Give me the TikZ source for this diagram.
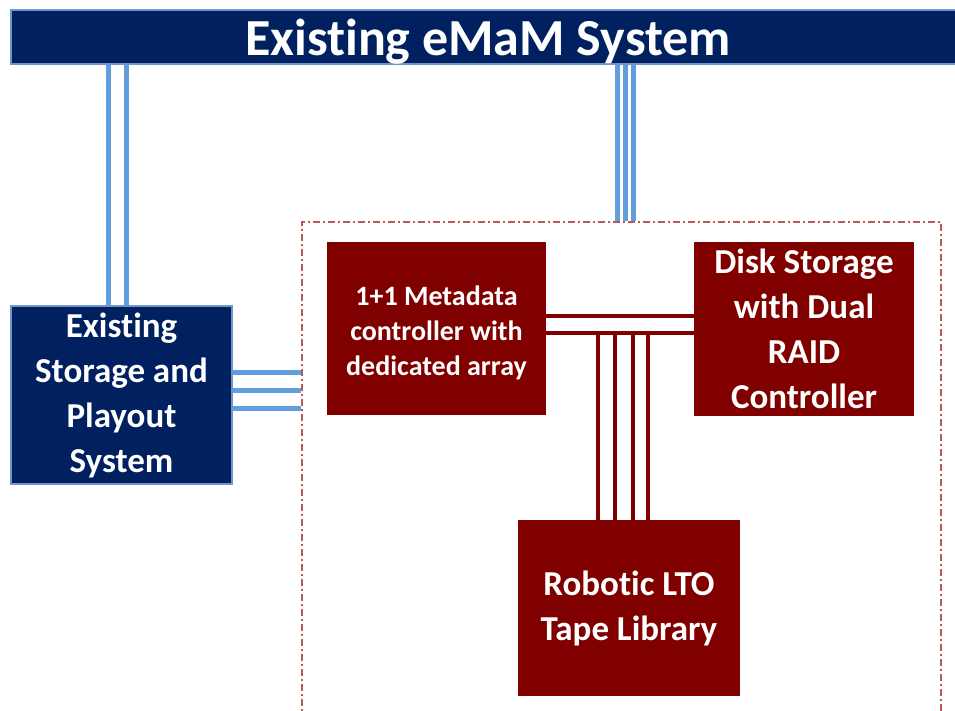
\documentclass[tikz,border=0pt]{standalone}
\usepackage{fontspec}
\setmainfont{Carlito}[Ligatures = NoCommon]
\definecolor{emnavy}{RGB}{0,32,96}
\definecolor{emred}{RGB}{128,0,0}
\definecolor{emblue}{RGB}{98,158,222}
\definecolor{emedge}{RGB}{110,150,205}
\definecolor{emdash}{RGB}{180,90,90}
\newcommand{\boxfont}{\bfseries\fontsize{35}{45}\selectfont}
\begin{document}
\begin{tikzpicture}[x=1pt, y=-1pt,
        navybox/.style = {fill = emnavy, draw = emedge, line width = 1.2pt, inner sep = 0pt, text = white, align = center, font = \boxfont},
        redbox/.style = {fill = emred, inner sep = 0pt, text = white, align = center, font = \boxfont},
        bluelink/.style = {draw = emblue, line width = 5pt},
        redlink/.style = {draw = emred, line width = 4pt},
        zonebox/.style = {draw = emdash, line width = 1.5pt, dash pattern = on 7pt off 3pt on 2pt off 3pt}]
        \useasboundingbox (0,0) rectangle (955,711);
        \clip (0,0) rectangle (955,711);
        % boxes
        \node[navybox, minimum width = 954pt, minimum height = 54pt, font = \bfseries\fontsize{52}{60}\selectfont] (bar) at (488,37) {\raisebox{-5pt}[\height][\depth]{Existing eMaM System}};
        \node[navybox, minimum width = 221pt, minimum height = 178pt] (storage) at (121.5,395) {Existing\\Storage and\\Playout\\System};
        \node[zonebox, minimum width = 639pt, minimum height = 510pt] (zone) at (621.5,477) {};
        \node[redbox, minimum width = 219pt, minimum height = 173pt, font = \bfseries\fontsize{28}{35}\selectfont] (meta) at (436.5,328.5) {\raisebox{-5pt}[\height][\depth]{\begin{tabular}{@{}c@{}}1+1 Metadata\\controller with\\dedicated array\end{tabular}}};
        \node[redbox, minimum width = 220pt, minimum height = 174pt] (disk) at (804,329) {Disk Storage\\with Dual\\RAID\\Controller};
        \node[redbox, minimum width = 222pt, minimum height = 176pt] (tape) at (629,608) {Robotic LTO\\Tape Library};
        % blue links
        \foreach \x in {108,126}
            \draw[bluelink] (bar.south -| \x,0) -- (storage.north -| \x,0);
        \foreach \x in {617,625,633}
            \draw[bluelink] (bar.south -| \x,0) -- (zone.north -| \x,0);
        \foreach \y in {372,390,408}
            \draw[bluelink] (storage.east |- 0,\y) -- (zone.west |- 0,\y);
        % red links
        \foreach \y in {316,333}
            \draw[redlink] (meta.east |- 0,\y) -- (disk.west |- 0,\y);
        \coordinate (bus) at (meta.east |- 0,333);
        \foreach \x in {598,615,633,648}
            \draw[redlink] (bus -| \x,0) -- (tape.north -| \x,0);
    \end{tikzpicture}
\end{document}
